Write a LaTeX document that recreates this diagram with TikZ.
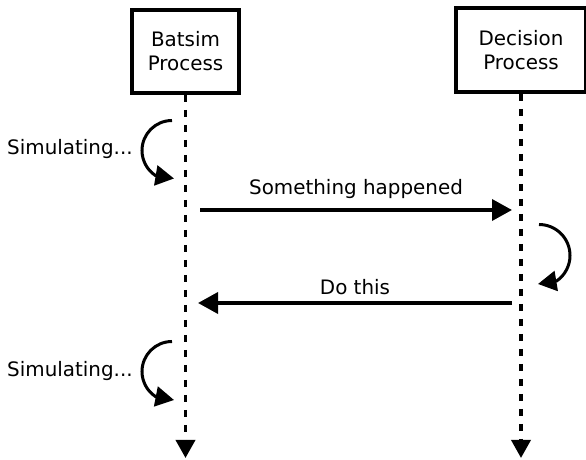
\documentclass[tikz,border=0pt]{standalone}
\usepackage{fontspec}
\setmainfont{DejaVu Sans}
\usetikzlibrary{arrows.meta}
\begin{document}
\begin{tikzpicture}[x=1pt,y=1pt,
  box/.style={draw, line width=3.6pt, inner sep=0pt, align=center, font=\fontsize{19.9}{24}\selectfont},
  lifeline/.style={line width=3.6pt, dash pattern=on 7.5pt off 7.5pt, -{Triangle[length=18pt,width=19pt]}},
  msg/.style={line width=3.6pt, -{Triangle[length=20pt,width=21pt]}},
  selfloop/.style={line width=3pt, -{Triangle[length=18.5pt,width=20pt]}},
  lbl/.style={font=\fontsize{19.9}{24}\selectfont, inner sep=0pt},
]
\useasboundingbox (0,0) rectangle (586,460);
\node[box, minimum width=107pt, minimum height=83pt] (batsim) at (185.5,408.5) {Batsim\\Process};
\node[box, minimum width=130pt, minimum height=84pt] (decision) at (521,410) {Decision\\Process};
% lifelines
\coordinate (bEnd) at (185.5,2);
\coordinate (dEnd) at (521,2);
\draw[lifeline] (batsim.south) -- (bEnd);
\draw[lifeline] (decision.south) -- (dEnd);
% messages
\coordinate (m1s) at (200,250);
\coordinate (m1e) at (512,250);
\coordinate (m2s) at (512,157);
\coordinate (m2e) at (198,157);
\draw[msg] (m1s) -- node[lbl, midway, anchor=base, yshift=15pt] (l1) {Something happened} (m1e);
\draw[msg] (m2s) -- node[lbl, midway, anchor=base, yshift=8.5pt] (l2) {Do this} (m2e);
% self loops
\coordinate (s1a) at (172,339.5);
\coordinate (s1b) at (174,281.5);
\coordinate (s2a) at (539,235.5);
\coordinate (s2b) at (538,176);
\coordinate (s3a) at (172,118.5);
\coordinate (s3b) at (174,60);
\draw[selfloop] (s1a) arc[start angle=90, end angle=236, radius=30] -- (s1b);
\draw[selfloop] (s2a) arc[start angle=90, end angle=-55, radius=31] -- (s2b);
\draw[selfloop] (s3a) arc[start angle=90, end angle=236, radius=30] -- (s3b);
\node[lbl, anchor=base west] (sim1) at (7,305) {Simulating...};
\node[lbl, anchor=base west] (sim2) at (7,83) {Simulating...};
\end{tikzpicture}
\end{document}
